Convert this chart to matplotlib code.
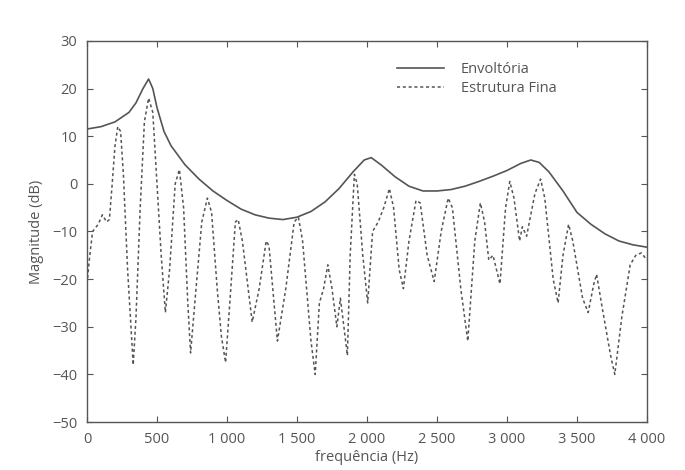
import matplotlib
matplotlib.use("Agg")
import matplotlib.pyplot as plt

# envelope (Envoltória)
env_f = [0, 100, 200, 300, 350, 400, 440, 470, 500, 550, 600, 650, 700, 750, 800,
         900, 1000, 1100, 1200, 1300, 1400, 1500, 1600, 1700, 1800, 1900, 1980,
         2030, 2100, 2200, 2300, 2400, 2500, 2600, 2700, 2800, 2900, 3000, 3100,
         3170, 3230, 3300, 3400, 3500, 3600, 3700, 3800, 3900, 4000]
env_db = [11.5, 12.0, 13.0, 15.0, 17.0, 20.0, 22.0, 20.0, 16.0, 11.0, 8.0, 6.0, 4.0,
          2.5, 1.0, -1.5, -3.5, -5.3, -6.5, -7.2, -7.5, -7.0, -5.8, -3.8, -1.0,
          2.5, 5.0, 5.5, 4.0, 1.5, -0.5, -1.5, -1.5, -1.2, -0.5, 0.5, 1.6, 2.8,
          4.3, 5.0, 4.5, 2.5, -1.5, -6.0, -8.5, -10.5, -12.0, -12.8, -13.3]

# fine structure (Estrutura Fina)
fine_f = [0, 20, 40, 80, 110, 140, 160, 180, 200, 220, 240, 260, 290, 330, 350, 380,
          410, 440, 470, 500, 530, 560, 590, 630, 660, 690, 720, 740, 770, 820, 860,
          890, 930, 960, 990, 1020, 1060, 1080, 1110, 1180, 1230, 1280, 1300, 1360,
          1420, 1480, 1510, 1540, 1600, 1630, 1660, 1690, 1720, 1750, 1785, 1810,
          1835, 1860, 1880, 1910, 1930, 1970, 2005, 2040, 2080, 2120, 2160, 2190,
          2230, 2260, 2300, 2350, 2380, 2430, 2480, 2530, 2580, 2610, 2670, 2720,
          2770, 2810, 2840, 2870, 2900, 2950, 2990, 3020, 3050, 3090, 3110, 3140,
          3200, 3240, 3270, 3330, 3365, 3400, 3440, 3470, 3540, 3580, 3620, 3640,
          3680, 3740, 3770, 3820, 3880, 3920, 3960, 4000]
fine_db = [-21, -15, -10, -8.5, -6.5, -8, -7.5, 0, 8, 12, 11, 2, -18, -38, -28, -5,
           13, 18, 15, 0, -15, -27, -18, 0, 3, -5, -25, -35.5, -25, -8, -3,
           -6, -22, -32, -37.5, -25, -8, -7.5, -12, -29, -22, -12, -13, -33,
           -22, -8, -7, -12, -33, -40, -25, -22, -17, -22, -30, -24,
           -30, -36, -15, 2, 0, -15, -25, -10, -8, -5, -1, -5,
           -18, -22, -12, -3.5, -4, -15, -20.5, -10, -3, -5, -22, -33,
           -12, -4, -8, -16, -15, -21, -5, 0.5, -3, -12, -9, -11,
           -2, 1, -3, -20, -25, -15, -8.5, -12, -24, -27, -21, -19,
           -26, -36, -40, -28, -17, -15, -14.5, -16]

xticks = [0, 500, 1000, 1500, 2000, 2500, 3000, 3500, 4000]
xticklabels = ['0', '500', '1 000', '1 500', '2 000', '2 500', '3 000', '3 500', '4 000']
yticks = [-50, -40, -30, -20, -10, 0, 10, 20, 30]

gray = '#555555'
plt.rcParams['font.family'] = ['Open Sans', 'DejaVu Sans']

fig = plt.figure(figsize=(6.85, 4.70), dpi=100)
ax = fig.add_axes([0.127, 0.102, 0.8175, 0.811])

ax.plot(env_f, env_db, color=gray, lw=1.2, label='Envoltória')
ax.plot(fine_f, fine_db, color=gray, lw=1.1, dashes=(2, 1.8), label='Estrutura Fina')

ax.set_xlim(0, 4000)
ax.set_ylim(-50, 30)
ax.set_xticks(xticks)
ax.set_xticklabels(xticklabels)
ax.set_yticks(yticks)
ax.tick_params(direction='in', top=True, right=True, length=4, width=0.8,
               colors=gray, labelsize=10.5, pad=7)
for s in ax.spines.values():
    s.set_color(gray)
    s.set_linewidth(1.0)

ax.set_xlabel('frequência (Hz)', color=gray, fontsize=10.5, labelpad=2)
ax.set_ylabel('Magnitude (dB)', color=gray, fontsize=10.5, labelpad=6)

leg = ax.legend(loc='upper left', bbox_to_anchor=(0.53, 0.98), frameon=False,
                fontsize=10.5, handlelength=3.2, handletextpad=1.2, labelspacing=0.3)
for t in leg.get_texts():
    t.set_color(gray)

fig.savefig('out.png', dpi=100)
